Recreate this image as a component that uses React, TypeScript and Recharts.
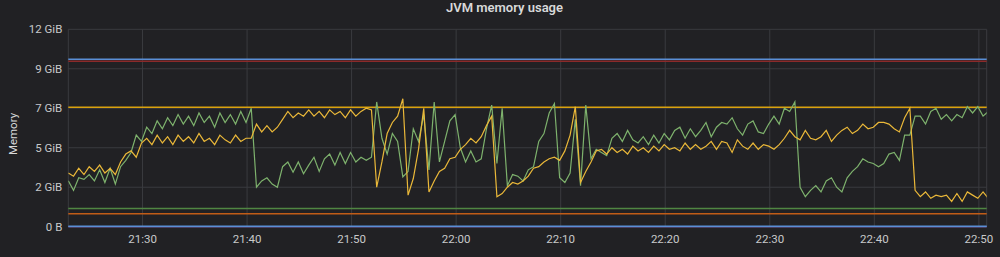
import React from 'react';
import { LineChart, Line, XAxis, YAxis, CartesianGrid, ReferenceLine } from 'recharts';

// scrape grid: one sample every 30 s, first one at 21:22:54 (minutes after 21:00)
const START_MIN = 22.9;
const STEP_MIN = 0.5;

// values in GB (1e9 bytes)
const heapUsed = [
  2.9, 2.3, 3.1, 3.0, 3.3, 2.9, 3.6, 2.8, 3.7, 2.7,
  3.8, 4.2, 4.7, 5.8, 5.4, 6.3, 5.9, 6.7, 6.2, 6.9,
  6.4, 7.1, 6.5, 7.0, 6.4, 7.2, 6.6, 7.0, 6.3, 7.2,
  6.6, 7.1, 6.5, 7.3, 6.6, 7.5, 2.5, 2.9, 3.1, 2.7,
  2.5, 3.8, 4.1, 3.45, 4.1, 3.35, 3.9, 4.4, 3.5, 4.3,
  4.6, 3.9, 4.7, 4.0, 4.7, 4.1, 4.4, 4.2, 4.4, 7.9,
  5.6, 4.6, 5.9, 5.4, 3.15, 3.5, 6.2, 5.4, 7.1, 3.6,
  7.9, 4.1, 5.4, 6.7, 7.1, 5.0, 4.1, 4.8, 4.1, 4.3,
  6.2, 7.7, 4.0, 7.5, 2.6, 3.3, 3.2, 2.9, 3.6, 3.8,
  5.4, 5.9, 7.2, 7.8, 3.1, 2.8, 3.4, 6.8, 2.6, 7.7,
  4.3, 4.9, 4.7, 4.5, 5.6, 5.9, 5.4, 6.1, 5.5, 5.3,
  5.7, 5.2, 5.8, 5.3, 5.9, 5.5, 6.1, 6.3, 5.6, 6.2,
  5.7, 6.1, 6.6, 5.7, 6.3, 6.6, 6.5, 6.9, 6.2, 5.8,
  6.5, 6.7, 6.0, 5.9, 6.5, 7.0, 6.5, 7.5, 7.3, 7.9,
  2.5, 1.9, 2.3, 2.6, 2.2, 2.9, 3.1, 2.5, 2.2, 3.1,
  3.5, 3.8, 4.3, 4.1, 4.0, 3.8, 4.0, 4.6, 4.7, 4.2,
  5.8, 5.8, 7.0, 7.0, 6.5, 7.3, 7.5, 6.8, 7.1, 6.7,
  7.1, 6.9, 7.6, 7.2, 7.6, 7.0, 7.3,
];

const oldGen = [
  3.4, 3.2, 3.7, 3.3, 3.8, 3.5, 3.9, 3.4, 3.7, 3.3,
  4.1, 4.6, 4.8, 4.4, 5.3, 5.6, 5.2, 5.8, 5.3, 5.7,
  5.2, 5.8, 5.4, 5.7, 5.3, 5.9, 5.4, 5.6, 5.2, 5.8,
  5.5, 5.3, 5.8, 5.4, 5.6, 5.6, 6.5, 6.0, 6.4, 6.0,
  6.3, 6.8, 7.3, 6.9, 7.2, 7.0, 7.4, 7.0, 7.3, 6.9,
  7.4, 7.1, 7.3, 6.9, 7.4, 7.0, 7.3, 7.5, 7.4, 2.5,
  4.1, 5.9, 6.6, 7.0, 8.1, 2.0, 3.05, 4.9, 7.5, 2.2,
  2.9, 3.5, 3.7, 4.3, 4.4, 4.9, 5.2, 5.6, 5.3, 5.7,
  6.4, 7.0, 1.9, 2.1, 2.5, 2.8, 2.7, 2.9, 3.2, 3.7,
  3.8, 4.1, 4.3, 4.4, 4.2, 4.8, 5.8, 7.6, 2.8, 3.5,
  4.1, 4.8, 4.9, 4.6, 5.0, 4.7, 4.9, 4.6, 5.1, 4.8,
  5.0, 4.7, 5.1, 4.8, 5.2, 4.9, 5.0, 4.8, 5.3, 4.9,
  5.2, 4.9, 5.1, 5.4, 4.9, 5.4, 5.3, 4.7, 5.5, 5.1,
  4.9, 5.3, 4.9, 5.2, 5.1, 4.9, 5.2, 5.6, 6.1, 5.7,
  5.5, 6.1, 5.6, 5.5, 5.7, 6.1, 5.4, 5.8, 6.1, 6.3,
  5.9, 6.1, 6.5, 6.2, 6.3, 6.6, 6.6, 6.5, 6.2, 6.0,
  6.9, 7.5, 2.3, 1.9, 2.2, 1.8, 2.0, 1.9, 2.0, 1.6,
  2.1, 1.6, 2.2, 2.0, 1.8, 2.2, 1.8,
];

// flat series (max / committed / init ...), GB — listed in draw order
const limitNames = ['max pool', 'max', 'committed', 'init', 'init pool', 'min pool', 'min'];
const limitValues = [10.48, 10.6, 7.56, 1.16, 0.82, 0.0, 0.03];
const limitColors = ['#8a2a2a', '#5a8fd6', '#D9A20E', '#508642', '#C15C17', '#705DA0', '#5a8fd6'];

const yTicks = [0, 2.5, 5, 7.5, 10, 12.5];
const xTicks = [30, 40, 50, 60, 70, 80, 90, 100, 110];

const data = heapUsed.map((v, i) => ({
  t: START_MIN + i * STEP_MIN,
  heap: v,
  old: oldGen[i],
}));

const fmtBytes = (gb: number) => {
  if (gb === 0) return '0 B';
  return `${Math.round((gb * 1e9) / 2 ** 30)} GiB`;
};

const fmtTime = (m: number) => {
  const h = 21 + Math.floor(m / 60);
  const mm = m % 60;
  return `${h}:${mm < 10 ? '0' + mm : mm}`;
};

const tickStyle = { fontSize: 11.5, fill: '#c8c9ca', fontFamily: 'Roboto' };

export default function App() {
  return (
    <div style={{ position: 'relative', width: 1000, height: 257, background: '#212124', fontFamily: 'Roboto', overflow: 'hidden' }}>
      <style>{`body{margin:0;background:#212124}`}</style>

      <div style={{ position: 'absolute', top: 0, left: 0, width: 1009, textAlign: 'center', fontSize: 13, fontWeight: 600, lineHeight: '15px', color: '#d8d9da' }}>
        JVM memory usage
      </div>

      <div style={{ position: 'absolute', left: 13, top: 134, transform: 'translate(-50%, -50%) rotate(-90deg)', fontSize: 11.5, color: '#d8d9da', whiteSpace: 'nowrap' }}>
        Memory
      </div>

      <LineChart width={1000} height={257} data={data} margin={{ top: 29.3, right: 13.3, bottom: 0.3, left: 0 }}>
        <CartesianGrid stroke="#3a3b3f" strokeWidth={1} />
        <XAxis
          dataKey="t"
          type="number"
          domain={[22.9, 110.75]}
          allowDataOverflow
          ticks={xTicks}
          tickFormatter={fmtTime}
          axisLine={false}
          tickLine={false}
          tickSize={0}
          tickMargin={8}
          height={30}
          tick={tickStyle}
        />
        <YAxis
          type="number"
          domain={[0, 12.5]}
          ticks={yTicks}
          tickFormatter={fmtBytes}
          axisLine={false}
          tickLine={false}
          tickSize={0}
          tickMargin={6}
          width={68.3}
          tick={tickStyle}
        />
        {limitValues.map((v, i) => (
          <ReferenceLine key={limitNames[i]} y={v} stroke={limitColors[i]} strokeWidth={1.5} ifOverflow="extendDomain" />
        ))}
        <Line dataKey="heap" stroke="#7EB26D" strokeWidth={1.2} dot={false} isAnimationActive={false} />
        <Line dataKey="old" stroke="#EAB839" strokeWidth={1.2} dot={false} isAnimationActive={false} />
      </LineChart>
    </div>
  );
}
